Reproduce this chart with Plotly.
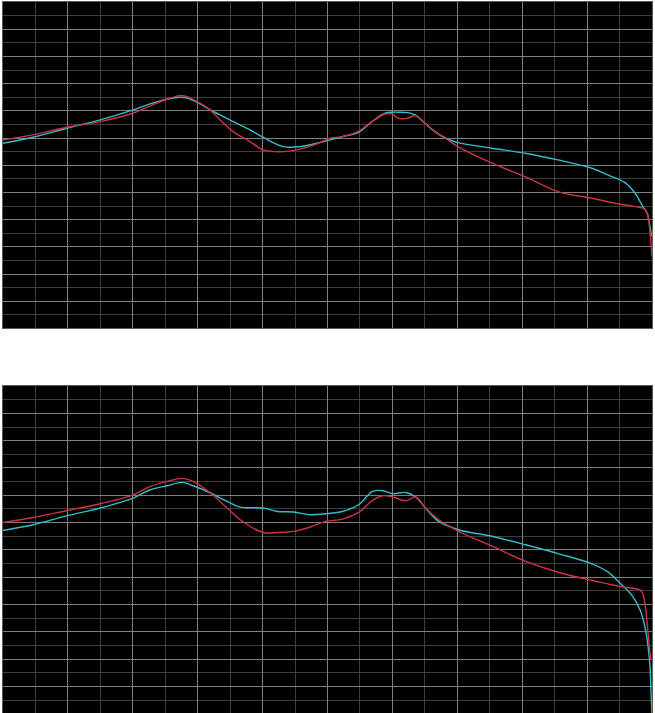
import plotly.graph_objects as go
from plotly.subplots import make_subplots

# x and y in grid divisions (20 across, 24 down)

# top panel
top_x = [0, 0.92, 1.97, 2.99, 4.01, 4.53, 5.05, 5.45, 5.67, 6.07, 6.38, 6.69,
         7.09, 7.61, 8.01, 8.63, 9.15, 9.68, 10.08, 10.45, 10.94, 11.37, 11.77,
         11.99, 12.17, 12.48, 12.70, 13.00, 13.31, 13.71, 14.02, 15.07, 16.09,
         17.10, 18.15, 18.64, 19.17, 19.48, 19.72, 19.85, 19.94, 20.0]
top_cyan = [13.62, 14.06, 14.72, 15.33, 16.07, 16.51, 16.85, 17.00, 16.93, 16.51,
            16.07, 15.70, 15.21, 14.60, 14.06, 13.37, 13.37, 13.62, 13.86, 14.10,
            14.40, 15.21, 15.82, 15.90, 15.90, 15.87, 15.70, 15.09, 14.47, 13.91,
            13.66, 13.25, 12.88, 12.39, 11.78, 11.29, 10.72, 9.94, 8.96, 8.49,
            7.46, 6.75]
top_red = [13.86, 14.23, 14.79, 15.21, 15.82, 16.36, 16.85, 17.12, 17.04, 16.56,
           16.07, 15.33, 14.47, 13.74, 13.13, 13.00, 13.18, 13.57, 13.99, 14.10,
           14.47, 15.21, 15.77, 15.77, 15.46, 15.46, 15.65, 15.09, 14.47, 13.86,
           13.37, 12.15, 11.16, 10.06, 9.57, 9.32, 9.08, 8.96, 8.84, 8.49,
           7.02, 5.28]

# bottom panel
bottom_x = [0, 0.93, 1.98, 2.99, 4.01, 4.54, 5.06, 5.52, 5.86, 6.39, 6.91, 7.31,
            8.02, 8.46, 8.95, 9.48, 9.94, 10.46, 10.96, 11.39, 11.70, 12.01,
            12.41, 12.72, 13.02, 13.43, 14.04, 15.09, 16.11, 17.13]
bottom_cyan_x = bottom_x + [18.15, 18.64, 19.01, 19.41, 19.63, 19.78, 19.88,
                            19.94, 19.97, 20.0]
bottom_cyan = [13.43, 13.85, 14.51, 15.07, 15.80, 16.41, 16.70, 16.95, 16.70, 16.17,
               15.55, 15.14, 15.07, 14.82, 14.78, 14.58, 14.65, 14.82, 15.31, 16.29,
               16.34, 16.12, 16.21, 15.88, 15.07, 14.09, 13.48, 12.99, 12.38, 11.72,
               10.99, 10.40, 9.58, 8.59, 7.62, 6.40, 4.93, 3.47, 1.54, 0.07]
bottom_red_x = bottom_x + [18.15, 18.64, 19.01, 19.63, 19.71, 19.78, 19.86,
                           19.92, 19.96]
bottom_red = [14.01, 14.38, 14.89, 15.38, 16.04, 16.65, 17.02, 17.24, 17.02, 16.17,
              15.07, 14.21, 13.28, 13.28, 13.36, 13.68, 14.09, 14.26, 14.75, 15.63,
              15.97, 15.88, 15.60, 15.88, 15.07, 14.21, 13.36, 12.26, 11.16, 10.35,
              9.77, 9.52, 9.33, 9.08, 8.84, 8.11, 6.40, 4.93, 3.96]

CYAN = "#34bccb"
RED = "#cc3340"
MAJOR = "#808080"
MINOR = "#3e3e3e"

fig = make_subplots(rows=2, cols=1)

panels = [
    (1, top_x, top_cyan, top_x, top_red),
    (2, bottom_cyan_x, bottom_cyan, bottom_red_x, bottom_red),
]
for row, cx, cy, rx, ry in panels:
    fig.add_trace(go.Scatter(x=cx, y=cy, mode="lines", hoverinfo="skip",
                             line=dict(color=CYAN, width=1.4, shape="spline", smoothing=1.0)),
                  row=row, col=1)
    fig.add_trace(go.Scatter(x=rx, y=ry, mode="lines", hoverinfo="skip",
                             line=dict(color=RED, width=1.4, shape="spline", smoothing=1.0)),
                  row=row, col=1)

axis_common = dict(
    showticklabels=False, ticks="", zeroline=False,
    showgrid=True, gridcolor=MAJOR, gridwidth=1.2,
    minor=dict(showgrid=True, gridcolor=MINOR, gridwidth=1.2),
    showline=True, linecolor="#5a5a5a", linewidth=1, mirror=True,
)
fig.update_xaxes(range=[0, 20], dtick=2, tick0=0, domain=[0.0046, 0.9954], **axis_common)
fig.update_xaxes(minor_dtick=1)
fig.update_yaxes(dtick=2, tick0=0, minor_dtick=1, **axis_common)
fig.update_yaxes(range=[0, 24], domain=[0.5393, 0.9972], row=1, col=1)
fig.update_yaxes(range=[0.07, 24], domain=[0.0, 0.4586], row=2, col=1)

fig.update_layout(
    width=655, height=713,
    margin=dict(l=0, r=0, t=0, b=0),
    paper_bgcolor="white",
    plot_bgcolor="black",
    showlegend=False,
)

# the page's default body margin would push the figure off by 8px
fig.write_html(
    "out.html",
    config={"displayModeBar": False},
    post_script="document.body.style.margin='0';document.body.style.overflow='hidden';",
)
